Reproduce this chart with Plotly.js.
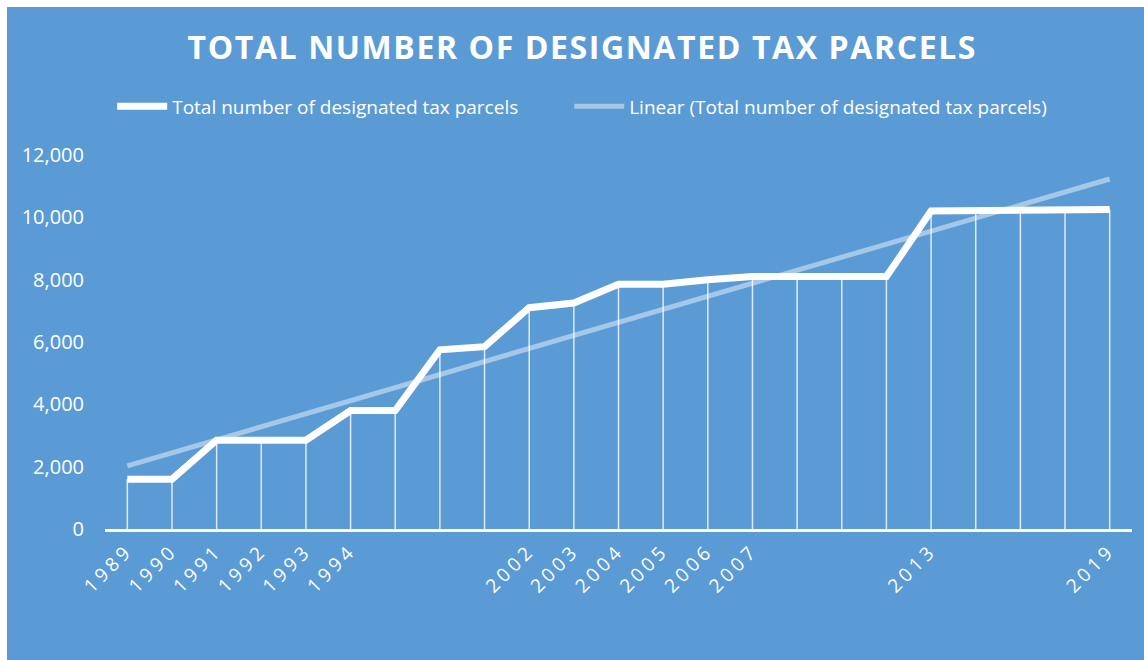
<!DOCTYPE html>
<html>
<head>
<meta charset="utf-8">
<script src="https://cdn.plot.ly/plotly-3.0.1.min.js"></script>
<style>
  html, body { margin: 0; padding: 0; background: #ffffff; }
  #chart { position: absolute; left: 7px; top: 7px; width: 1137px; height: 653px; }
  .gtitle { letter-spacing: 1.6px; }
  .xtick text { letter-spacing: 4px; }
</style>
</head>
<body>
<div id="chart"></div>
<script>
// Categories (x axis) and their displayed tick labels (blank where Excel skipped a label)
const categories = ["c0","c1","c2","c3","c4","c5","c6","c7","c8","c9","c10","c11","c12","c13","c14","c15","c16","c17","c18","c19","c20","c21","c22"];
const tickLabels = ["1989","1990","1991","1992","1993","1994","","","","2002","2003","2004","2005","2006","2007","","","","2013","","","","2019"];
// Series values
const parcels = [1600,1600,2850,2850,2850,3800,3800,5750,5850,7100,7250,7850,7850,8000,8100,8100,8100,8100,10200,10200,10200,10200,10250];
const seriesName = "Total number of designated tax parcels";
const trendName = "Linear (Total number of designated tax parcels)";
const yTicks = [0,2000,4000,6000,8000,10000,12000];

// Least-squares linear trend computed from the series
const n = parcels.length;
const idx = parcels.map((_, i) => i);
const mx = idx.reduce((a,b)=>a+b,0)/n;
const my = parcels.reduce((a,b)=>a+b,0)/n;
let sxy = 0, sxx = 0;
idx.forEach(i => { sxy += (i-mx)*(parcels[i]-my); sxx += (i-mx)*(i-mx); });
const slope = sxy/sxx, intercept = my - slope*mx;
const trend = idx.map(i => intercept + slope*i);

const bg = "#5B9BD5";
const font = "Open Sans, Lato, sans-serif";

const traces = [
  {
    x: categories, y: trend, name: trendName, type: "scatter", mode: "lines",
    line: { color: "rgba(255,255,255,0.45)", width: 5 },
    hoverinfo: "skip", legend: "legend2"
  },
  {
    x: categories, y: parcels, name: seriesName, type: "scatter", mode: "lines",
    line: { color: "#ffffff", width: 7 },
    error_y: { type: "data", symmetric: false, array: parcels.map(()=>0), arrayminus: parcels,
               color: "rgba(255,255,255,0.8)", thickness: 1.5, width: 0 },
    legend: "legend"
  }
];

const legendBase = {
  orientation: "h", xanchor: "left", y: 1.13, yanchor: "middle",
  font: { family: font, size: 19, color: "#ffffff" },
  itemwidth: 50, bgcolor: "rgba(0,0,0,0)"
};

const layout = {
  width: 1137, height: 653,
  paper_bgcolor: bg, plot_bgcolor: bg,
  margin: { l: 98, r: 12, t: 148, b: 131 },
  showlegend: true,
  title: { text: "<b>TOTAL NUMBER OF DESIGNATED TAX PARCELS</b>", x: 0.506, xanchor: "center", y: 0.937, yanchor: "middle",
           font: { family: font, size: 32, color: "#ffffff" } },
  legend: Object.assign({}, legendBase, { x: 0.007 }),
  legend2: Object.assign({}, legendBase, { x: 0.452 }),
  xaxis: {
    type: "category", tickmode: "array", tickvals: categories, ticktext: tickLabels,
    tickangle: -45, range: [-0.5, n-0.5], showgrid: false, zeroline: false,
    showline: true, linecolor: "#ffffff", linewidth: 3, ticks: "",
    tickfont: { family: font, size: 19, color: "#ffffff" }, fixedrange: true
  },
  yaxis: {
    range: [0, 12000], tickvals: yTicks, tickformat: ",d", showgrid: false, zeroline: false,
    showline: false, ticks: "", ticklabelstandoff: 20,
    tickfont: { family: font, size: 20, color: "#ffffff" }, fixedrange: true
  }
};

Plotly.newPlot("chart", traces, layout, { displayModeBar: false, staticPlot: true });
</script>
</body>
</html>
